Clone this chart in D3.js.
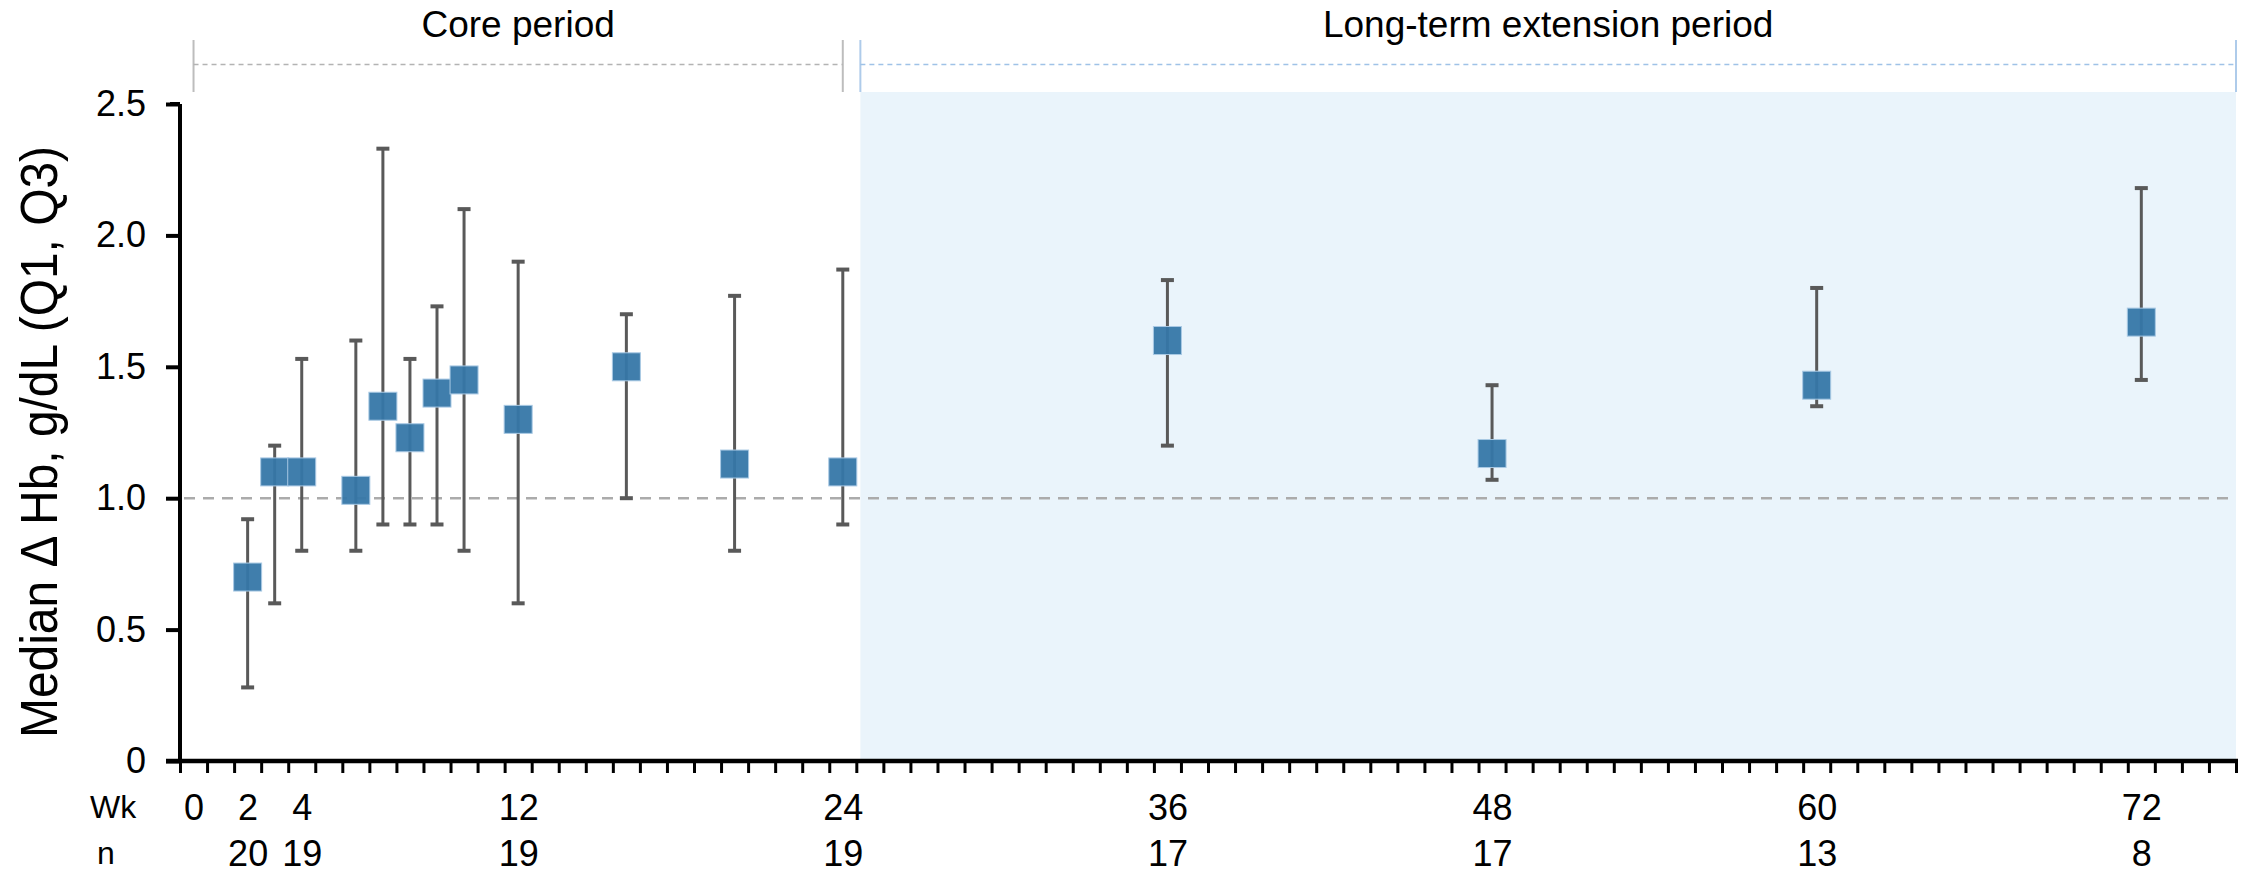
<!DOCTYPE html>
<html>
<head>
<meta charset="utf-8">
<script src="https://cdn.jsdelivr.net/npm/d3@7"></script>
<style>
  body { margin: 0; background: #fff; }
  text { font-family: "Liberation Sans", Arial, sans-serif; fill: #000; }
</style>
</head>
<body>
<svg id="chart" width="2252" height="874"></svg>
<script>
// weeks with a median and its interquartile range
const weeks   = [2, 3, 4, 6, 7, 8, 9, 10, 12, 16, 20, 24, 36, 48, 60, 72];
const medians = [0.70, 1.10, 1.10, 1.03, 1.35, 1.23, 1.40, 1.45, 1.30, 1.50, 1.13, 1.10, 1.60, 1.17, 1.43, 1.67];
const q1      = [0.28, 0.60, 0.80, 0.80, 0.90, 0.90, 0.90, 0.80, 0.60, 1.00, 0.80, 0.90, 1.20, 1.07, 1.35, 1.45];
const q3      = [0.92, 1.20, 1.53, 1.60, 2.33, 1.53, 1.73, 2.10, 1.90, 1.70, 1.77, 1.87, 1.83, 1.43, 1.80, 2.18];

const wkTicks = [0, 2, 4, 12, 24, 36, 48, 60, 72];
const nWeeks  = [2, 4, 12, 24, 36, 48, 60, 72];
const nValues = [20, 19, 19, 19, 17, 17, 13, 8];
const yTicks  = [0, 0.5, 1.0, 1.5, 2.0, 2.5];
const refLine = 1.0;

const periodNames = ['Core period', 'Long-term extension period'];
const periodStart = [0, 24.65];
const periodEnd   = [24, 75.5];

const svg = d3.select('#chart');
const x = d3.scaleLinear().domain([-0.5, 75.5]).range([180, 2236]);
const y = d3.scaleLinear().domain([0, 2.5]).range([761, 104]);

// shaded extension period
svg.append('rect')
  .attr('x', x(periodStart[1]))
  .attr('y', 92)
  .attr('width', x(periodEnd[1]) - x(periodStart[1]))
  .attr('height', y(0) - 92)
  .style('fill', '#eaf4fb');

// period brackets on top
const bracketColors = ['#bdbdbd', '#aecbea'];
const dashColors = ['#b3b3b3', '#9fc2e7'];
periodNames.forEach((name, i) => {
  let g = svg.append('g');
  let x0 = x(periodStart[i]), x1 = x(periodEnd[i]);
  [x0, x1].forEach(xx => g.append('line')
    .attr('x1', xx).attr('x2', xx).attr('y1', 40).attr('y2', 92)
    .style('stroke', bracketColors[i]).style('stroke-width', 2));
  g.append('line')
    .attr('x1', x0).attr('x2', x1).attr('y1', 64.5).attr('y2', 64.5)
    .style('stroke', dashColors[i]).style('stroke-width', 1.5)
    .style('stroke-dasharray', '5,4');
  g.append('text')
    .attr('x', (x0 + x1) / 2)
    .attr('y', 37)
    .attr('text-anchor', 'middle')
    .style('font-size', '37px')
    .text(name);
});

// reference line at 1.0
svg.append('line')
  .attr('x1', x(-0.5) + 4).attr('x2', x(75.5))
  .attr('y1', y(refLine)).attr('y2', y(refLine))
  .style('stroke', '#ababab').style('stroke-width', 2.5)
  .style('stroke-dasharray', '11,8');

// axes
let yAxis = d3.axisLeft(y)
  .tickValues(yTicks)
  .tickSize(14)
  .tickPadding(20)
  .tickFormat(d => d === 0 ? '0' : d3.format('.1f')(d));
let yg = svg.append('g')
  .attr('transform', `translate(${x(-0.5)},0)`)
  .call(yAxis);
yg.select('.domain').attr('d', `M0,${y(2.5)}H-10M0,${y(2.5)}V${y(0)}`)
  .style('stroke', '#000').style('stroke-width', 4).style('fill', 'none');
yg.selectAll('.tick line').style('stroke', '#000').style('stroke-width', 4);
yg.selectAll('.tick text').style('font-size', '36px').attr('font-family', null);

let xAxis = d3.axisBottom(x)
  .tickValues(d3.range(-0.5, 76, 1))
  .tickSize(12)
  .tickSizeOuter(0)
  .tickFormat('');
let xg = svg.append('g')
  .attr('transform', `translate(0,${y(0)})`)
  .call(xAxis);
xg.select('.domain').attr('d', `M${x(-0.5) - 14},0H${x(75.5) + 2}`)
  .style('stroke', '#000').style('stroke-width', 4.5);
xg.selectAll('.tick line').style('stroke', '#000').style('stroke-width', 3);

// week labels and n labels
let wkAxis = d3.axisBottom(x).tickValues(wkTicks).tickSize(0).tickPadding(0);
let wg = svg.append('g').attr('transform', `translate(0,820)`).call(wkAxis);
wg.select('.domain').remove();
wg.selectAll('text').attr('y', 0).attr('dy', null).style('font-size', '36px').attr('font-family', null);

let nAxis = d3.axisBottom(x).tickValues(nWeeks).tickSize(0)
  .tickFormat(d => nValues[nWeeks.indexOf(d)]);
let ng = svg.append('g').attr('transform', `translate(0,866)`).call(nAxis);
ng.select('.domain').remove();
ng.selectAll('text').attr('y', 0).attr('dy', null).style('font-size', '36px').attr('font-family', null);

svg.append('text').attr('x', 90).attr('y', 818).style('font-size', '32px').text('Wk');
svg.append('text').attr('x', 97).attr('y', 864).style('font-size', '32px').text('n');

// y title
svg.append('text')
  .attr('transform', `translate(57,442) rotate(-90)`)
  .attr('text-anchor', 'middle')
  .attr('textLength', 592)
  .attr('lengthAdjust', 'spacingAndGlyphs')
  .style('font-size', '52px')
  .text('Median \u0394 Hb, g/dL (Q1, Q3)');

// error bars and median squares
const pts = weeks.map((w, i) => ({ wk: w, med: medians[i], lo: q1[i], hi: q3[i] }));
let bars = svg.append('g');
pts.forEach(d => {
  bars.append('line')
    .attr('x1', x(d.wk)).attr('x2', x(d.wk))
    .attr('y1', y(d.lo)).attr('y2', y(d.hi))
    .style('stroke', '#595959').style('stroke-width', 3);
  [d.lo, d.hi].forEach(v => bars.append('line')
    .attr('x1', x(d.wk) - 6.5).attr('x2', x(d.wk) + 6.5)
    .attr('y1', y(v)).attr('y2', y(v))
    .style('stroke', '#595959').style('stroke-width', 4));
});
svg.append('g').selectAll('rect')
  .data(pts)
  .join('rect')
  .attr('x', d => x(d.wk) - 14)
  .attr('y', d => y(d.med) - 14)
  .attr('width', 28)
  .attr('height', 28)
  .style('fill', '#3677a8')
  .style('fill-opacity', 0.95)
  .style('stroke', '#a9c9e4')
  .style('stroke-width', 1);
</script>
</body>
</html>
